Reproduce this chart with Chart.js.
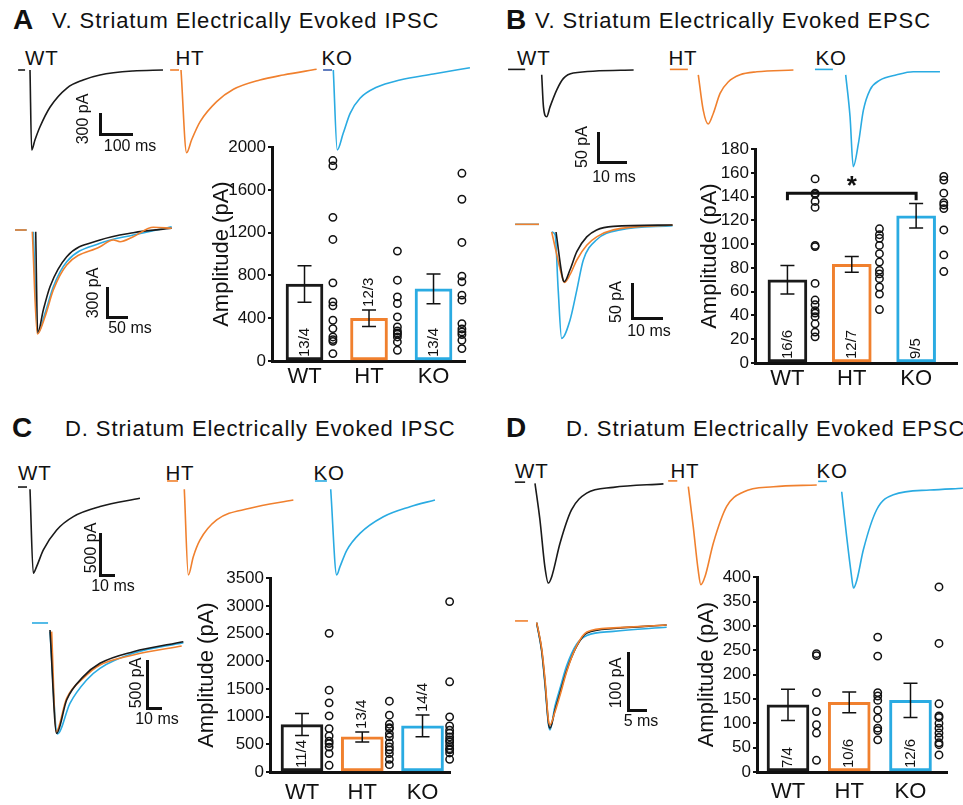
<!DOCTYPE html>
<html>
<head>
<meta charset="utf-8">
<script src="https://cdn.jsdelivr.net/npm/chart.js@4.4.1/dist/chart.umd.min.js"></script>
<style>
body { margin: 0; background: #fff; }
#fig { position: relative; width: 963px; height: 805px; overflow: hidden; background: #fff;
       font-family: Arial, "Liberation Sans", Helvetica, sans-serif; color: #111; }
#fig canvas { position: absolute; }
.t { position: absolute; line-height: 1; white-space: nowrap; }
.c { position: absolute; line-height: 1; white-space: nowrap; transform: translate(-50%, -50%); }
.c.r { transform: translate(-50%, -50%) rotate(-90deg); }
.sb { position: absolute; box-sizing: border-box; border-left: 3px solid #111; border-bottom: 3px solid #111; }
</style>
</head>
<body>
<div id="fig"></div>
<script>
const groups = ['WT', 'HT', 'KO'];
const black = '#1a1a1a', orange = '#F0802E', blue = '#2AABE2';

// ---- amplitudes (pA) ----
// A: ventral striatum IPSC
const ipscVMean = [720, 400, 675];
const ipscVSem = [170, 78, 140];
const ipscVN = ['13/4', '12/3', '13/4'];
const ipscVWT = [1875, 1825, 1344, 1137, 731, 553, 516, 381, 303, 225, 200, 184, 69];
const ipscVHT = [1028, 756, 600, 538, 413, 319, 281, 263, 250, 225, 178, 100];
const ipscVKO = [1756, 1513, 1109, 794, 741, 616, 569, 350, 300, 272, 247, 194, 116];

// B: ventral striatum EPSC
const epscVMean = [70, 83, 124];
const epscVSem = [12, 6.6, 10.3];
const epscVN = ['16/6', '12/7', '9/5'];
const epscVWT = [155, 143, 142, 136, 131, 99, 98, 67, 53, 49, 44, 42, 39, 33, 26, 22];
const epscVHT = [113, 108, 105, 99, 92, 85, 78, 75, 71, 64, 58, 45];
const epscVKO = [157, 154, 143, 135, 133, 130, 112, 91, 77];

// C: dorsal striatum IPSC
const ipscDMean = [857, 634, 833];
const ipscDSem = [200, 90, 195];
const ipscDN = ['11/4', '13/4', '14/4'];
const ipscDWT = [2504, 1478, 1249, 1014, 784, 650, 555, 513, 450, 332, 121];
const ipscDHT = [1279, 1026, 863, 800, 784, 694, 634, 525, 453, 400, 332, 229, 133];
const ipscDKO = [3077, 1629, 996, 833, 754, 700, 634, 580, 543, 480, 422, 400, 344, 229];

// D: dorsal striatum EPSC
const epscDMean = [138, 143, 147];
const epscDSem = [32, 21.5, 35];
const epscDN = ['7/4', '10/6', '12/6'];
const epscDWT = [243, 239, 163, 124, 97, 80, 24];
const epscDHT = [277, 238, 163, 156, 147, 127, 110, 90, 85, 66];
const epscDKO = [380, 264, 140, 115, 112, 100, 90, 80, 71, 60, 56, 35];

// ---- example traces: time (ms) / current (pA) ----
const aWtT = [0, 5, 15, 30, 61, 112, 161, 212, 312, 403];
const aWtI = [0, -1091, -955, -778, -505, -246, -136, -68, -14, 0];
const aHtT = [0, 17, 32, 58, 108, 159, 239, 310, 411];
const aHtI = [0, -1128, -955, -705, -432, -263, -136, -68, 10];
const aKoT = [0, 12, 30, 51, 81, 131, 202, 303, 414];
const aKoI = [0, -1091, -864, -591, -386, -236, -136, -55, 31];
const aWtBaseT = [-36, -15], aHtBaseT = [-33, -6], aKoBaseT = [-31, -4], aBaseI = [0, 0];
const aOvBkT = [1.7, 6.4, 19.8, 35.7, 75.5, 154.8, 234, 325.5];
const aOvBkI = [3, -1013, -780, -547, -247, -80, -7, 37];
const aOvHtT = [-6.4, 5.5, 23.8, 43.6, 75.5, 154.8, 186.4, 202.4, 234, 281.7, 325.5];
const aOvHtI = [3, -1020, -847, -580, -330, -147, -80, -97, -47, 47, 37];
const aOvKoT = [-4, 6.4, 23.8, 43.6, 75.5, 154.8, 234, 325.5];
const aOvKoI = [3, -1013, -813, -547, -297, -113, -30, 53];
const aOvBaseT = [-47.6, -19.8], aOvBaseI = [20, 20];

const bWtT = [0, 0.6, 1.7, 2.9, 5.2, 7.5, 10.9, 31.7];
const bWtI = [-8, -61, -78, -61, -33, -14, -5, 0];
const bHtT = [0, 1.7, 3.4, 5.2, 7.5, 10.3, 14.4, 20.2, 32.8];
const bHtI = [-8, -67, -90, -72, -39, -20, -8, -3, 0];
const bKoT = [0, 1.5, 2.6, 4.4, 6.1, 8.4, 11.8, 17.6, 23.3, 32.5];
const bKoI = [-8, -78, -161, -122, -67, -33, -17, -8, -3, -3];
const bWtBaseT = [-11.6, -5.7], bHtBaseT = [-9.8, -3.6], bKoBaseT = [-10.6, -4.4], bBaseI = [1, 1];
const bOvBkT = [1.4, 3.7, 4.1, 5.9, 8.1, 11.3, 14.5, 19.9, 39];
const bOvBkI = [-10, -79, -81, -64, -38, -17, -7, -2, 0];
const bOvHtT = [0, 3.7, 4.1, 5.9, 8.1, 11.3, 14.5, 19.9, 39];
const bOvHtI = [-10, -79, -82, -71, -50, -29, -17, -7, 0];
const bOvKoT = [0, 1.1, 2.1, 3.2, 5.9, 8.1, 10.2, 14.5, 22, 39];
const bOvKoI = [-10, -14, -93, -162, -136, -93, -50, -21, -7, -1];
const bOvBaseT = [-11.8, -4.1], bOvBaseI = [1, 1];

const cWtT = [0, 2.2, 4.4, 8.9, 17.8, 28.9, 46.7, 73.3];
const cWtI = [0, -1000, -921, -722, -484, -325, -206, -107];
const cHtT = [0, 2.7, 6, 10.5, 21.6, 43.8, 72.7];
const cHtI = [0, -1020, -802, -603, -365, -226, -127];
const cKoT = [0, 4, 6.2, 10.7, 19.5, 35.1, 52.9, 69.5];
const cKoI = [0, -1020, -921, -726, -524, -326, -207, -127];
const cWtBaseT = [-8, -2], cWtBaseI = [27, 27];
const cHtBaseT = [-11.5, -4.2], cKoBaseT = [-10.5, -2.5], cBaseI = [99, 99];
const cOvBkT = [0, 4.4, 11.1, 22.2, 33.3, 55.5, 88.9];
const cOvBkI = [0, -1076, -729, -486, -347, -226, -122];
const cOvHtT = [1.1, 4, 11.1, 22.2, 33.3, 55.5, 87.8];
const cOvHtI = [-17, -1059, -712, -503, -365, -260, -167];
const cOvKoT = [0, 4.9, 13.3, 24.4, 33.3, 55.5, 88.9];
const cOvKoI = [-17, -1083, -764, -521, -399, -243, -132];
const cOvBaseT = [-12, -1.3], cOvBaseI = [73, 73];

const dWtT = [0, 1.3, 2.6, 3.5, 4.4, 6.6, 9.6, 13.6, 20.6, 33.8];
const dWtI = [0, -63, -144, -172, -161, -103, -46, -17, -7, -1];
const dHtT = [0, 1.3, 2.6, 3.3, 4.4, 6.6, 10.1, 14.5, 22.4, 33.8];
const dHtI = [0, -69, -144, -169, -155, -97, -34, -9, 0, 3];
const dKoT = [0, 1.3, 2.5, 3.1, 4, 5.7, 9.2, 13.6, 23.2, 31.9];
const dKoI = [-6, -83, -147, -172, -158, -106, -37, -11, -3, 0];
const dWtBaseT = [-5.3, -2.6], dWtBaseI = [2, 2];
const dHtBaseT = [-5.3, -2.9], dHtBaseI = [10, 10];
const dKoBaseT = [-6.2, -3.9], dKoBaseI = [12, 12];
const dOvT = [0, 1.3, 2.2, 3.1, 3.5, 4.8, 6.1, 7.9, 10.5, 13.2, 20.2, 34.2];
const dOvBkI = [4, -43, -100, -169, -178, -147, -118, -78, -37, -14, -6, 0];
const dOvHtI = [4, -40, -95, -165, -172, -150, -122, -80, -36, -12, -5, 0];
const dOvKoI = [2, -45, -105, -172, -181, -140, -110, -70, -33, -18, -11, -4];
const dOvBaseT = [-5.7, -2.3], dOvBaseI = [7, 7];

Chart.defaults.font.family = 'Arial, "Liberation Sans", Helvetica, sans-serif';
Chart.defaults.color = '#111';

const fig = document.getElementById('fig');

function makeCanvas(l, t, w, h) {
	const c = document.createElement('canvas');
	c.width = w; c.height = h;
	c.style.left = l + 'px'; c.style.top = t + 'px';
	fig.appendChild(c);
	return c;
}

function txt(s, left, base, size, extra) {
	const d = document.createElement('div');
	d.className = 't';
	d.textContent = s;
	d.style.left = left + 'px';
	d.style.top = (base - 0.8465 * size) + 'px';
	d.style.fontSize = size + 'px';
	Object.assign(d.style, extra || {});
	fig.appendChild(d);
}

function ctxt(s, cx, cy, size, rot) {
	const d = document.createElement('div');
	d.className = rot ? 'c r' : 'c';
	d.textContent = s;
	d.style.left = cx + 'px';
	d.style.top = cy + 'px';
	d.style.fontSize = size + 'px';
	fig.appendChild(d);
}

// L shaped scale bar, v and h in pixels
function scaleBar(x, yb, v, h) {
	const d = document.createElement('div');
	d.className = 'sb';
	d.style.left = (x - 1.5) + 'px';
	d.style.top = (yb - v) + 'px';
	d.style.width = (h + 1.5) + 'px';
	d.style.height = (v + 1.5) + 'px';
	fig.appendChild(d);
}

// one trace panel: x0,y0 = pixel of t=0 / I=0, kx px per ms, ky px per pA
function traceChart(x0, y0, kx, ky, series) {
	const pad = 4;
	let tMin = Infinity, tMax = -Infinity, iMin = Infinity, iMax = -Infinity;
	series.forEach(s => {
		tMin = Math.min(tMin, ...s.t); tMax = Math.max(tMax, ...s.t);
		iMin = Math.min(iMin, ...s.i); iMax = Math.max(iMax, ...s.i);
	});
	const L = Math.floor(x0 + tMin * kx - pad), R = Math.ceil(x0 + tMax * kx + pad);
	const T = Math.floor(y0 - iMax * ky - pad), B = Math.ceil(y0 - iMin * ky + pad);
	const c = makeCanvas(L, T, R - L, B - T);
	new Chart(c, {
		type: 'line',
		data: {
			datasets: series.map(s => ({
				data: s.t.map((v, k) => ({x: v, y: s.i[k]})),
				borderColor: s.color,
				borderWidth: 1.6,
				pointRadius: 0,
				fill: false,
				cubicInterpolationMode: 'monotone'
			}))
		},
		options: {
			animation: false, responsive: false, devicePixelRatio: 1,
			layout: {padding: 0},
			plugins: {legend: {display: false}, tooltip: {enabled: false}},
			scales: {
				x: {type: 'linear', display: false, min: (L - x0) / kx, max: (R - x0) / kx},
				y: {type: 'linear', display: false, min: (y0 - B) / ky, max: (y0 - T) / ky}
			}
		}
	});
}

// error bars, n labels, significance bracket
const barExtras = {
	id: 'barExtras',
	afterDatasetsDraw(chart, args, o) {
		const ctx = chart.ctx, x = chart.scales.x, y = chart.scales.y;
		const bars = chart.data.datasets[1].data;
		const y0 = y.getPixelForValue(0);
		ctx.save();
		ctx.strokeStyle = '#111'; ctx.fillStyle = '#111'; ctx.lineWidth = 1.5;
		bars.forEach((b, k) => {
			const cx = x.getPixelForValue(b.x);
			const hi = y.getPixelForValue(b.y + o.sem[k]);
			const lo = y.getPixelForValue(b.y - o.sem[k]);
			ctx.beginPath();
			ctx.moveTo(cx, hi); ctx.lineTo(cx, lo);
			ctx.moveTo(cx - 7, hi); ctx.lineTo(cx + 7, hi);
			ctx.moveTo(cx - 7, lo); ctx.lineTo(cx + 7, lo);
			ctx.stroke();
			ctx.font = '15px ' + Chart.defaults.font.family;
			const w = ctx.measureText(o.counts[k]).width;
			const start = (y0 - lo > w + 8) ? y0 - 4 : hi - 3;
			ctx.save();
			ctx.translate(cx, start);
			ctx.rotate(-Math.PI / 2);
			ctx.textAlign = 'left'; ctx.textBaseline = 'middle';
			ctx.fillText(o.counts[k], 0, 0);
			ctx.restore();
		});
		if (o.sig) {
			const s = o.sig;
			const xa = x.getPixelForValue(s.from), xb = x.getPixelForValue(s.to);
			const yt = y.getPixelForValue(s.top), yf = y.getPixelForValue(s.foot);
			ctx.lineWidth = 3;
			ctx.beginPath();
			ctx.moveTo(xa, yf); ctx.lineTo(xa, yt); ctx.lineTo(xb, yt); ctx.lineTo(xb, yf);
			ctx.stroke();
			ctx.font = 'bold 26px ' + Chart.defaults.font.family;
			ctx.textAlign = 'center'; ctx.textBaseline = 'alphabetic';
			ctx.fillText(s.mark, (xa + xb) / 2, yt + 1);
		}
		ctx.restore();
	}
};

function barChart(c) {
	const cv = makeCanvas(c.l, c.t, c.w, c.h);
	const pts = [];
	c.pts.forEach((arr, g) => arr.forEach(v => pts.push({x: g + c.off, y: v})));
	new Chart(cv, {
		type: 'bar',
		data: {
			datasets: [{
				type: 'scatter',
				data: pts,
				clip: false,
				pointRadius: 3.7,
				pointBorderWidth: 1.5,
				borderColor: '#111',
				pointBorderColor: '#111',
				backgroundColor: 'rgba(0,0,0,0)',
				pointBackgroundColor: 'rgba(0,0,0,0)'
			}, {
				type: 'bar',
				data: c.means.map((m, i) => ({x: i, y: m})),
				backgroundColor: '#fff',
				borderColor: [black, orange, blue],
				borderWidth: 3,
				borderSkipped: false,
				barThickness: c.barW
			}]
		},
		options: {
			animation: false, responsive: false, devicePixelRatio: 1,
			layout: {padding: {top: 12, right: c.padR, left: 0, bottom: 0}},
			plugins: {
				legend: {display: false}, tooltip: {enabled: false},
				barExtras: {sem: c.sem, counts: c.counts, sig: c.sig}
			},
			scales: {
				x: {
					type: 'linear', min: c.xMin, max: c.xMax, offset: false,
					grid: {display: false, drawTicks: false},
					border: {display: true, color: '#111', width: 3},
					ticks: {padding: c.tickPad, color: '#111', font: {size: 22}, callback: v => groups[v]},
					afterBuildTicks: s => { s.ticks = [0, 1, 2].map(v => ({value: v})); },
					afterFit: s => { s.height = 32; }
				},
				y: {
					min: 0, max: c.yMax,
					ticks: {stepSize: c.step, padding: 2, color: '#111', font: {size: 17}, callback: v => String(v)},
					grid: {drawOnChartArea: false, drawTicks: true, tickLength: 4, color: '#111', lineWidth: 2},
					border: {display: true, color: '#111', width: 3},
					title: {display: true, text: 'Amplitude (pA)', color: '#111', font: {size: 22}, padding: 0},
					afterFit: s => { s.width = c.yW; }
				}
			}
		},
		plugins: [barExtras]
	});
}

// ---- headings ----
const headFont = {letterSpacing: '0.9px'};
txt('A', 13, 30, 28, {fontWeight: 'bold'});
txt('V. Striatum Electrically Evoked IPSC', 52, 28.3, 22, headFont);
txt('B', 506, 30, 28, {fontWeight: 'bold'});
txt('V. Striatum Electrically Evoked EPSC', 535, 28.3, 22, headFont);
txt('C', 12, 438, 28, {fontWeight: 'bold'});
txt('D. Striatum Electrically Evoked IPSC', 65, 437, 22, headFont);
txt('D', 506, 438, 28, {fontWeight: 'bold'});
txt('D. Striatum Electrically Evoked EPSC', 566, 437, 22, headFont);

const gl = {letterSpacing: '0.8px'};
[[25, 175.5, 321.5, 65], [517, 668.5, 815.5, 65], [18, 165.5, 313.5, 480], [515, 670.5, 816.5, 478]]
	.forEach(p => groups.forEach((g, k) => txt(g, p[k], p[3], 20.5, gl)));

// ---- A ----
traceChart(30, 70, 0.33, 0.0733, [{t: aWtT, i: aWtI, color: black}, {t: aWtBaseT, i: aBaseI, color: black}]);
traceChart(181, 70, 0.33, 0.0733, [{t: aHtT, i: aHtI, color: orange}, {t: aHtBaseT, i: aBaseI, color: orange}]);
traceChart(333.3, 70, 0.33, 0.0733, [{t: aKoT, i: aKoI, color: blue}, {t: aKoBaseT, i: aBaseI, color: '#3a5db0'}]);
traceChart(35, 232, 0.42, 0.1, [
	{t: aOvHtT, i: aOvHtI, color: orange}, {t: aOvBkT, i: aOvBkI, color: black},
	{t: aOvKoT, i: aOvKoI, color: blue}, {t: aOvBaseT, i: aOvBaseI, color: orange}, {t: aOvBaseT, i: aOvBaseI, color: blue}]);
scaleBar(100, 135, 300 * 0.0733, 100 * 0.33);
ctxt('300 pA', 83, 119, 16, true); ctxt('100 ms', 130, 146, 16);
scaleBar(107, 317, 300 * 0.1, 50 * 0.42);
ctxt('300 pA', 93, 293, 16, true); ctxt('50 ms', 130, 328, 16);
barChart({l: 209, t: 135, w: 262, h: 258, yW: 63, padR: 6, xMin: -0.504, xMax: 2.488, barW: 37, off: 0.44,
	tickPad: 3, yMax: 2000, step: 400, means: ipscVMean, sem: ipscVSem, counts: ipscVN, pts: [ipscVWT, ipscVHT, ipscVKO]});

// ---- B ----
traceChart(541.7, 70, 2.9, 0.6, [{t: bWtT, i: bWtI, color: black}, {t: bWtBaseT, i: bBaseI, color: black}]);
traceChart(698.3, 70, 2.9, 0.6, [{t: bHtT, i: bHtI, color: orange}, {t: bHtBaseT, i: bBaseI, color: orange}]);
traceChart(845.7, 70, 2.9, 0.6, [{t: bKoT, i: bKoI, color: blue}, {t: bKoBaseT, i: bBaseI, color: blue}]);
traceChart(551.7, 225, 3.1, 0.7, [
	{t: bOvBkT, i: bOvBkI, color: black}, {t: bOvHtT, i: bOvHtI, color: orange},
	{t: bOvKoT, i: bOvKoI, color: blue}, {t: bOvBaseT, i: bOvBaseI, color: orange}, {t: bOvBaseT, i: bOvBaseI, color: blue}]);
scaleBar(598, 162, 50 * 0.6, 10 * 2.9);
ctxt('50 pA', 582, 147, 16, true); ctxt('10 ms', 614, 177, 16);
scaleBar(632, 318, 50 * 0.7, 10 * 3.1);
ctxt('50 pA', 616, 302, 16, true); ctxt('10 ms', 649, 331, 16);
barChart({l: 697, t: 137, w: 266, h: 258, yW: 58, padR: 5, xMin: -0.504, xMax: 2.643, barW: 39, off: 0.43,
	tickPad: 3, yMax: 180, step: 20, means: epscVMean, sem: epscVSem, counts: epscVN, pts: [epscVWT, epscVHT, epscVKO],
	sig: {from: 0, to: 2, top: 143, foot: 137, mark: '*'}});

// ---- C ----
traceChart(30, 489.3, 1.5, 0.084, [{t: cWtT, i: cWtI, color: black}, {t: cWtBaseT, i: cWtBaseI, color: black}]);
traceChart(184.3, 489.3, 1.5, 0.084, [{t: cHtT, i: cHtI, color: orange}, {t: cHtBaseT, i: cBaseI, color: orange}]);
traceChart(330.7, 489.3, 1.5, 0.084, [{t: cKoT, i: cKoI, color: blue}, {t: cKoBaseT, i: cBaseI, color: blue}]);
traceChart(50, 630, 1.5, 0.096, [
	{t: cOvBkT, i: cOvBkI, color: black}, {t: cOvHtT, i: cOvHtI, color: orange},
	{t: cOvKoT, i: cOvKoI, color: blue}, {t: cOvBaseT, i: cOvBaseI, color: blue}]);
scaleBar(100, 575, 500 * 0.084, 10 * 1.5);
ctxt('500 pA', 91, 548, 16, true); ctxt('10 ms', 113, 586, 16);
scaleBar(147, 708, 500 * 0.096, 10 * 1.5);
ctxt('500 pA', 136, 683, 16, true); ctxt('10 ms', 157, 719, 16);
barChart({l: 194, t: 566, w: 262, h: 238, yW: 76, padR: 6, xMin: -0.531, xMax: 2.456, barW: 42, off: 0.45,
	tickPad: 8, yMax: 3500, step: 500, means: ipscDMean, sem: ipscDSem, counts: ipscDN, pts: [ipscDWT, ipscDHT, ipscDKO]});

// ---- D ----
traceChart(535, 483.3, 3.8, 0.58, [{t: dWtT, i: dWtI, color: black}, {t: dWtBaseT, i: dWtBaseI, color: black}]);
traceChart(688.3, 486.7, 3.8, 0.58, [{t: dHtT, i: dHtI, color: orange}, {t: dHtBaseT, i: dHtBaseI, color: orange}]);
traceChart(841.7, 488.3, 3.8, 0.58, [{t: dKoT, i: dKoI, color: blue}, {t: dKoBaseT, i: dKoBaseI, color: blue}]);
traceChart(536.7, 625, 3.8, 0.58, [
	{t: dOvT, i: dOvHtI, color: orange}, {t: dOvT, i: dOvBkI, color: black},
	{t: dOvT, i: dOvKoI, color: blue}, {t: dOvBaseT, i: dOvBaseI, color: orange}]);
scaleBar(628, 710, 100 * 0.58, 5 * 3.8);
ctxt('100 pA', 616, 683, 16, true); ctxt('5 ms', 641, 721, 16);
barChart({l: 694, t: 565, w: 259, h: 239, yW: 63, padR: 6, xMin: -0.506, xMax: 2.596, barW: 42, off: 0.465,
	tickPad: 7, yMax: 400, step: 50, means: epscDMean, sem: epscDSem, counts: epscDN, pts: [epscDWT, epscDHT, epscDKO]});
</script>
</body>
</html>
